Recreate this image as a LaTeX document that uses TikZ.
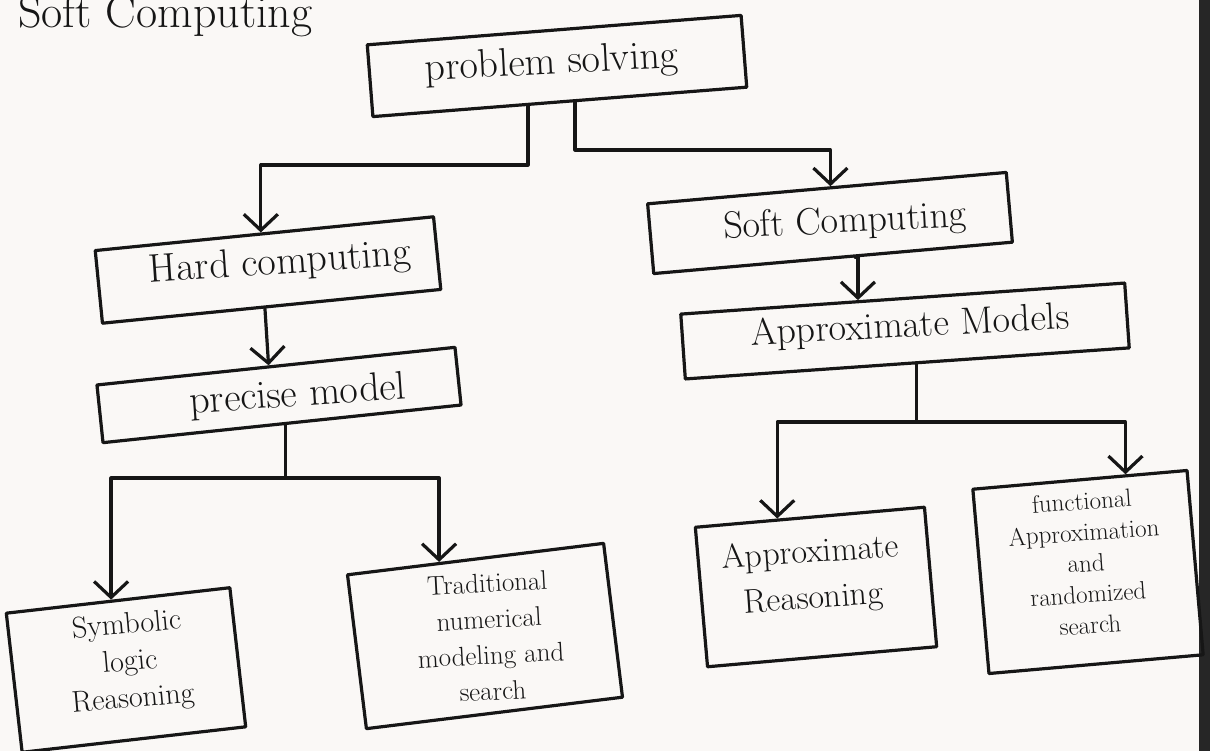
\documentclass[tikz,border=0pt]{standalone}
\usepackage{fontspec}
\usetikzlibrary{arrows.meta,calc}
\definecolor{paper}{RGB}{250,248,246}
\definecolor{ink}{RGB}{22,22,22}
\newcommand{\hwf}[2]{\fontsize{#1}{#2}\selectfont}
\begin{document}
\begin{tikzpicture}[x=1pt,y=-1pt,
  box/.style={draw=ink, line width=3.2pt, inner sep=0pt, line join=round},
  txt/.style={align=center, inner sep=0pt, text=ink},
  ln/.style={draw=ink, line width=3.2pt, line cap=round, line join=round},
  arr/.style={ln, -{Straight Barb[length=16pt,width=34pt]}}]
\useasboundingbox (0,0) rectangle (1210,751);
\fill[paper] (0,0) rectangle (1210,751);
\fill[black!85] (1199,0) rectangle (1210,751);

% partially visible heading
\node[anchor=base west, text=ink, font=\hwf{46}{48}, inner sep=0pt] (head) at (18,28) {Soft Computing};

% boxes (hand-drawn, slightly tilted)
\node[box, minimum width=375pt, minimum height=72pt, rotate=4.5] (ps) at (557,66) {};
\node[box, minimum width=340pt, minimum height=73pt, rotate=5.7] (hc) at (268,270) {};
\node[box, minimum width=360pt, minimum height=58pt, rotate=6] (pm) at (279,395) {};
\node[box, minimum width=360pt, minimum height=70pt, rotate=5] (sc) at (830,223) {};
\node[box, minimum width=445pt, minimum height=65pt, rotate=4] (am) at (905,331) {};
\node[box, minimum width=225pt, minimum height=140pt, rotate=6.5] (sym) at (126,670) {};
\node[box, minimum width=258pt, minimum height=155pt, rotate=7] (tr) at (485,636) {};
\node[box, minimum width=230pt, minimum height=140pt, rotate=5] (ar) at (816,587) {};
\node[box, minimum width=215pt, minimum height=185pt, rotate=5] (fn) at (1088,572) {};

% texts (slanted like the handwriting)
\node[txt, rotate=3, font=\hwf{40}{42}] (pst) at (552,64) {problem solving};
\node[txt, rotate=4, font=\hwf{40}{42}] (hct) at (280,264) {Hard computing};
\node[txt, rotate=4, font=\hwf{40}{42}] (pmt) at (298,396) {precise model};
\node[txt, rotate=3, font=\hwf{38}{40}] (sct) at (845,223) {Soft Computing};
\node[txt, rotate=3, font=\hwf{38}{40}] (amt) at (910,327) {Approximate Models};
\node[txt, rotate=5, font=\hwf{30}{37}] (symt) at (130,663) {Symbolic\\logic\\Reasoning};
\node[txt, rotate=3, font=\hwf{27}{36}] (trt) at (490,637) {Traditional\\numerical\\modeling and\\search};
\node[txt, rotate=4, font=\hwf{34}{46}] (art) at (812,577) {Approximate\\Reasoning};
\node[txt, rotate=4, font=\hwf{25}{31}] (fnt) at (1086,563) {functional\\Approximation\\and\\randomized\\search};

% attachment points
\coordinate (psL) at ($(ps.south west)!0.415!(ps.south east)$);
\coordinate (psR) at ($(ps.south west)!0.54!(ps.south east)$);
\coordinate (hcT) at ($(hc.north west)!0.49!(hc.north east)$);
\coordinate (scT) at ($(sc.north west)!0.51!(sc.north east)$);
\coordinate (hcB) at ($(hc.south west)!0.48!(hc.south east)$);
\coordinate (pmT) at ($(pm.north west)!0.48!(pm.north east)$);
\coordinate (pmB) at ($(pm.south west)!0.51!(pm.south east)$);
\coordinate (symT) at ($(sym.north west)!0.47!(sym.north east)$);
\coordinate (trT) at ($(tr.north west)!0.36!(tr.north east)$);
\coordinate (scB) at ($(sc.south west)!0.56!(sc.south east)$);
\coordinate (amT) at ($(am.north west)!0.40!(am.north east)$);
\coordinate (amB) at ($(am.south west)!0.52!(am.south east)$);
\coordinate (arT) at ($(ar.north west)!0.36!(ar.north east)$);
\coordinate (fnT) at ($(fn.north west)!0.71!(fn.north east)$);
\coordinate (r1) at (0,165);
\coordinate (r2) at (0,150);
\coordinate (r3) at (0,478);
\coordinate (r4) at (0,422);

% connectors
\draw[arr] (psL) -- (psL |- r1) -| (hcT);
\draw[arr] (psR) -- (psR |- r2) -| (scT);
\draw[arr] (hcB) -- (pmT);
\draw[ln] (pmB) -- (pmB |- r3);
\draw[arr] (pmB |- r3) -| (symT);
\draw[arr] (pmB |- r3) -| (trT);
\draw[arr] (scB) -- (scB -| amT) -- (amT);
\draw[ln] (amB) -- (amB |- r4);
\draw[arr] (amB |- r4) -| (arT);
\draw[arr] (amB |- r4) -| (fnT);
\end{tikzpicture}
\end{document}
